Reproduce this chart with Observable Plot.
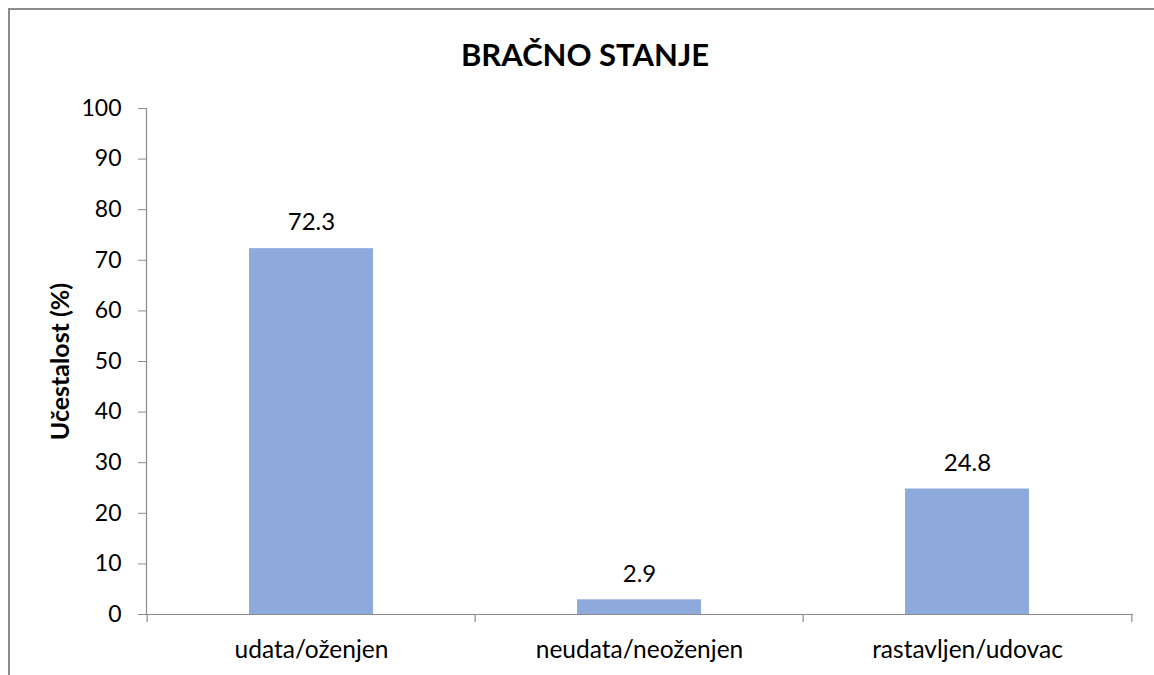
<!DOCTYPE html>
<html>
<head>
<meta charset="utf-8">
<script src="https://cdn.jsdelivr.net/npm/d3@7"></script>
<script src="https://cdn.jsdelivr.net/npm/@observablehq/plot@0.6"></script>
<style>
  html, body { margin: 0; padding: 0; background: #fff; }
  #wrap { position: relative; width: 1154px; height: 675px; overflow: hidden; }
  #border { position: absolute; left: 8px; top: 8px; width: 1200px; height: 700px;
            border-top: 2px solid #8c8c8c; border-left: 2px solid #8c8c8c; box-sizing: border-box; }
  #title { position: absolute; left: 0; top: 34px; width: 1170px; text-align: center;
           font-family: Lato, "Open Sans", sans-serif; font-weight: bold; font-size: 31px; color: #000; line-height: 40px; }
  #chart { position: absolute; left: 0; top: 80px; }
</style>
</head>
<body>
<div id="wrap">
  <div id="border"></div>
  <div id="title">BRAČNO STANJE</div>
  <div id="chart"></div>
</div>
<script>
const categories = ["udata/oženjen", "neudata/neoženjen", "rastavljen/udovac"];
const values = [72.3, 2.9, 24.8];
const yTicks = [0, 10, 20, 30, 40, 50, 60, 70, 80, 90, 100];
const yLabel = "Učestalost (%)";

const data = categories.map((c, i) => ({category: c, value: values[i]}));

const W = 1154, H = 595;
const mL = 146, mR = 22, mT = 28, mB = 61;
const bw = (W - mL - mR) / categories.length;
const font = "Lato, 'Open Sans', sans-serif";

const chart = Plot.plot({
  width: W,
  height: H,
  marginLeft: mL,
  marginRight: mR,
  marginTop: mT,
  marginBottom: mB,
  style: {fontFamily: font, fontSize: "23px", color: "#000", background: "transparent"},
  x: {domain: categories, padding: 0, label: null},
  y: {domain: [0, 100], label: null},
  marks: [
    Plot.barY(data, {x: "category", y: "value", fill: "#8EA9DB", insetLeft: 102, insetRight: 102}),
    Plot.frame({anchor: "left", stroke: "#8c8c8c", strokeWidth: 1.2}),
    Plot.frame({anchor: "bottom", stroke: "#8c8c8c", strokeWidth: 1.2}),
    Plot.ruleX(categories, {x: d => d, y1: 0, y2: 0, insetBottom: -8, dx: -bw / 2, stroke: "#8c8c8c", strokeWidth: 1.2}),
    Plot.ruleX(categories.slice(-1), {x: d => d, y1: 0, y2: 0, insetBottom: -8, dx: bw / 2, stroke: "#8c8c8c", strokeWidth: 1.2}),
    Plot.axisY({ticks: yTicks, tickSize: 8, tickPadding: 17, stroke: "#8c8c8c", tickFormat: d => String(d), fontSize: 23, label: null}),
    Plot.axisX({tickSize: 0, tickPadding: 26, fontSize: 24.5, label: null}),
    Plot.text(data, {x: "category", y: "value", text: d => d.value.toFixed(1), dy: -26, fontSize: 24, fill: "#000"}),
    Plot.text([yLabel], {frameAnchor: "left", textAnchor: "middle", text: d => d, rotate: -90, dx: -86, fontSize: 25, fontWeight: "bold", fill: "#000"})
  ]
});
document.getElementById("chart").appendChild(chart);
</script>
</body>
</html>
